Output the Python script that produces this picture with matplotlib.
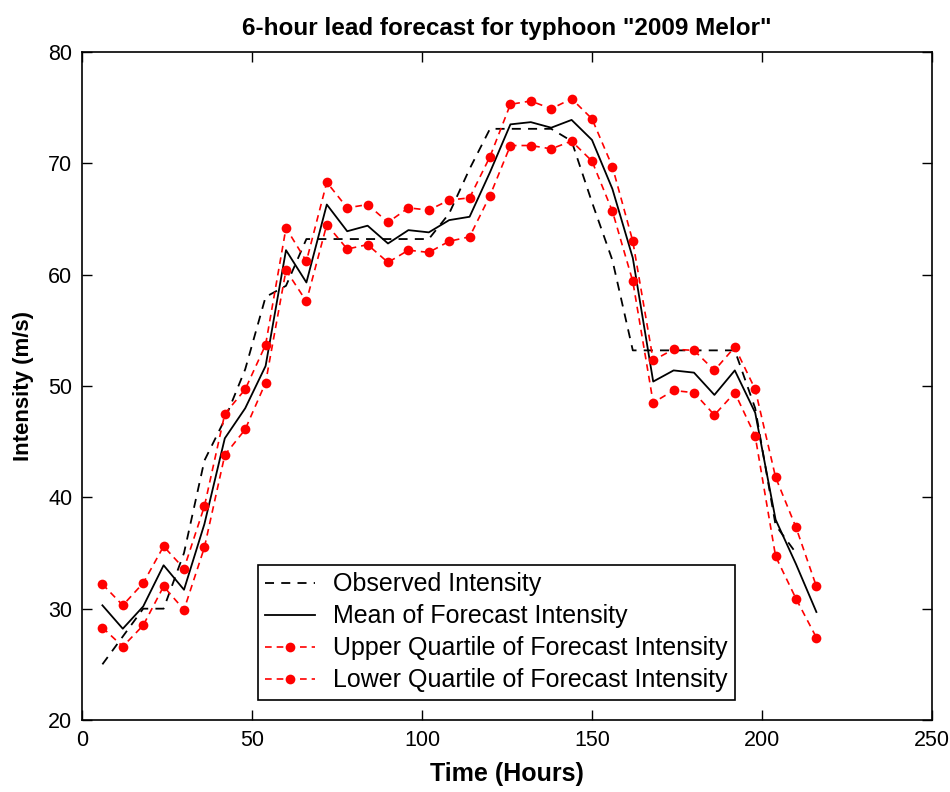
import numpy as np
import matplotlib
matplotlib.use("Agg")
import matplotlib.pyplot as plt

plt.rcParams['font.family'] = ['Liberation Sans', 'DejaVu Sans']

# Forecast times (hours)
t_fc = list(range(6, 217, 6))
# Observed times (hours)
t_obs = list(range(6, 211, 6))

observed = [25.0, 27.5, 30.0, 30.0, 35.0, 43.3, 47.0, 51.5, 58.0, 59.0,
            63.2, 63.2, 63.2, 63.2, 63.2, 63.2, 63.2, 65.5, 69.5, 73.1,
            73.1, 73.1, 73.1, 72.0, 66.5, 61.3, 53.2, 53.2, 53.2, 53.2,
            53.2, 53.2, 48.0, 37.5, 35.0]

mean_fc = [30.3, 28.2, 30.2, 33.9, 31.7, 37.6, 45.3, 48.0, 51.8, 62.2,
           59.3, 66.3, 63.9, 64.4, 62.8, 64.0, 63.8, 64.9, 65.2, 69.2,
           73.5, 73.7, 73.2, 73.9, 72.1, 67.7, 61.5, 50.4, 51.4, 51.2,
           49.2, 51.4, 47.6, 38.0, 34.0, 29.7]

upper_q = [32.2, 30.3, 32.3, 35.6, 33.6, 39.2, 47.5, 49.7, 53.7, 64.2,
           61.2, 68.3, 66.0, 66.3, 64.7, 66.0, 65.8, 66.7, 66.9, 70.6,
           75.3, 75.6, 74.9, 75.8, 74.0, 69.7, 63.0, 52.3, 53.3, 53.2,
           51.4, 53.5, 49.7, 41.8, 37.3, 32.0]

lower_q = [28.3, 26.6, 28.5, 32.0, 29.9, 35.5, 43.8, 46.1, 50.3, 60.4,
           57.6, 64.5, 62.3, 62.7, 61.1, 62.2, 62.0, 63.0, 63.4, 67.1,
           71.6, 71.6, 71.3, 72.0, 70.2, 65.7, 59.4, 48.5, 49.6, 49.4,
           47.4, 49.4, 45.5, 34.7, 30.9, 27.4]

labels = ["Observed Intensity", "Mean of Forecast Intensity",
          "Upper Quartile of Forecast Intensity", "Lower Quartile of Forecast Intensity"]
xticks = [0, 50, 100, 150, 200, 250]
yticks = [20, 30, 40, 50, 60, 70, 80]

fig = plt.figure(figsize=(9.5, 7.92), dpi=100)
ax = fig.add_axes([82/950, 1-720/792, 850/950, 668/792])

ax.plot(t_obs, observed, color='black', linestyle=(0, (5, 4)), lw=1.3, label=labels[0])
ax.plot(t_fc, mean_fc, color='black', linestyle='-', lw=1.3, label=labels[1])
ax.plot(t_fc, upper_q, color='red', linestyle=(0, (4, 3)), lw=1.2, marker='o',
        markersize=7, markeredgewidth=0, label=labels[2])
ax.plot(t_fc, lower_q, color='red', linestyle=(0, (4, 3)), lw=1.2, marker='o',
        markersize=7, markeredgewidth=0, label=labels[3])

ax.set_xlim(0, 250)
ax.set_ylim(20, 80)
ax.set_xticks(xticks)
ax.set_yticks(yticks)
ax.tick_params(direction='in', length=7, width=1, top=True, right=True,
               labelsize=15.5, pad=7)
for s in ax.spines.values():
    s.set_linewidth(1.2)

ax.set_title('6-hour lead forecast for typhoon "2009 Melor"', fontsize=17.5,
             fontweight='bold', pad=12)
ax.set_xlabel('Time (Hours)', fontsize=18, fontweight='bold', labelpad=8)
ax.set_ylabel('Intensity (m/s)', fontsize=16, fontweight='bold', labelpad=10)

leg = ax.legend(loc='lower left', bbox_to_anchor=(0.207, 0.03), fontsize=18,
                frameon=True, fancybox=False, edgecolor='black', framealpha=1,
                handlelength=2.0, handletextpad=0.7, borderpad=0.3,
                labelspacing=0.32, borderaxespad=0)
leg.get_frame().set_linewidth(1.2)

fig.savefig('out.png', dpi=100)
